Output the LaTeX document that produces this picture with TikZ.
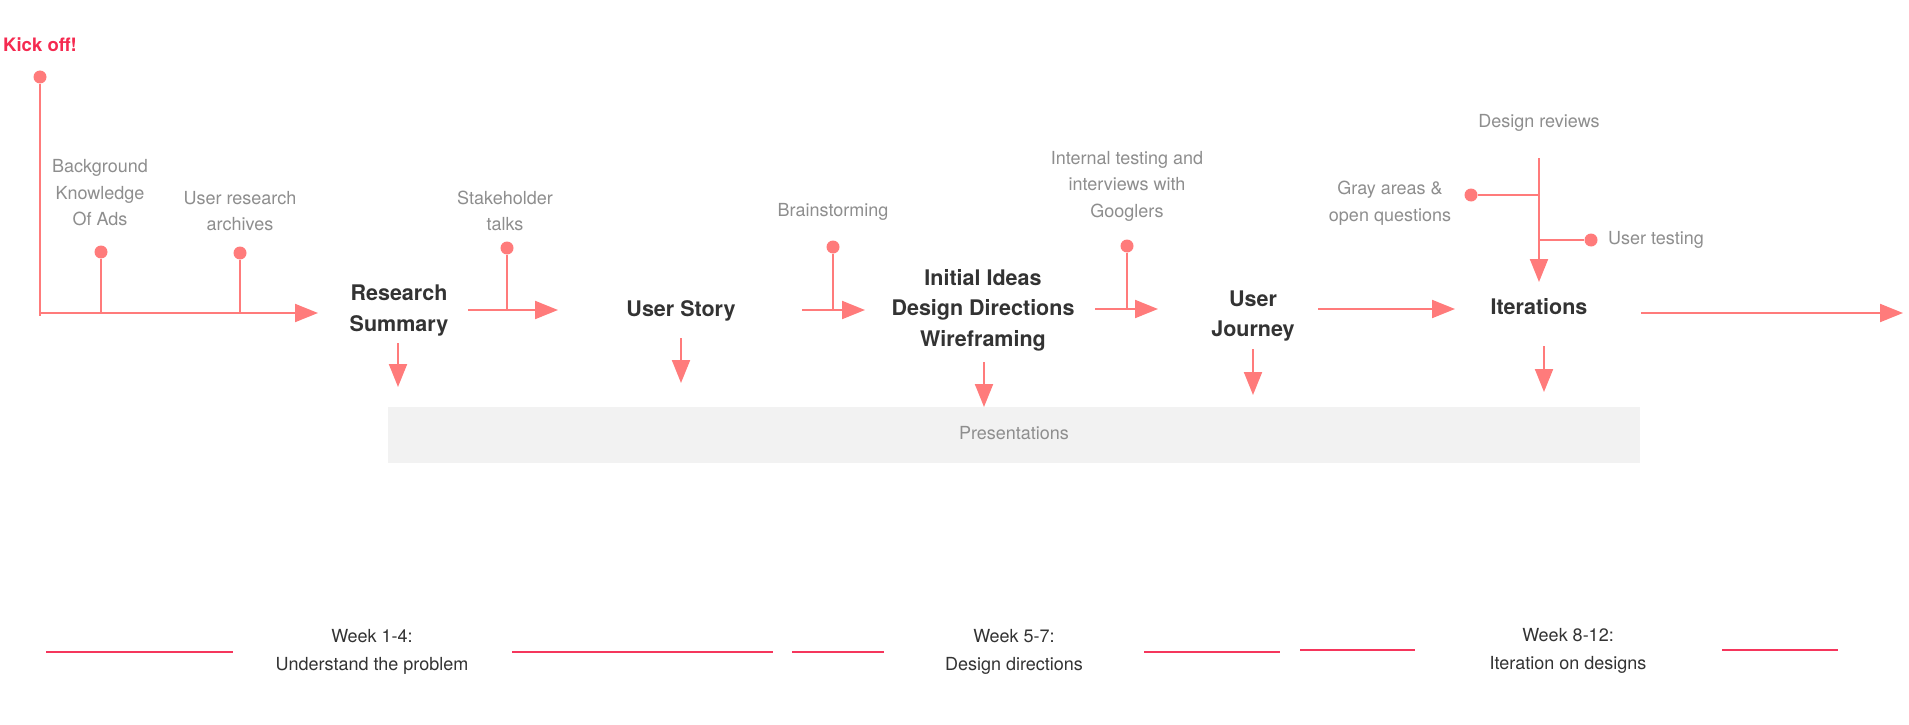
\documentclass[tikz,border=0pt]{standalone}
\usepackage{fontspec}
\setmainfont{TeX Gyre Heros}
\usetikzlibrary{arrows.meta}
\definecolor{salmon}{HTML}{FF7B7B}
\definecolor{hot}{HTML}{F5365C}
\definecolor{kickred}{HTML}{F52A50}
\definecolor{lblgray}{HTML}{8E8E8E}
\definecolor{darktext}{HTML}{333333}
\definecolor{boxfill}{HTML}{F2F2F2}
\begin{document}
\begin{tikzpicture}[x=1pt,y=-1pt,
 conn/.style={draw=salmon,line width=2pt},
 arr/.style={conn,-{Triangle[length=23pt,width=18pt]}},
 dot/.style={circle,fill=salmon,inner sep=0pt,minimum size=13pt},
 lbl/.style={text=lblgray,align=center,font=\fontsize{18}{26.5}\selectfont,inner sep=0pt},
 stage/.style={text=darktext,align=center,font=\bfseries\fontsize{21.5}{30.5}\selectfont,inner sep=0pt},
 week/.style={text=darktext,align=center,font=\fontsize{18}{28}\selectfont,inner sep=0pt},
 band/.style={draw=hot,line width=2.5pt}]
\useasboundingbox[fill=white] (0,0) rectangle (1909,725);

% Presentations band
\node[fill=boxfill,minimum width=1252pt,minimum height=56pt,inner sep=0pt] (pres) at (1014,435) {};
\node[lbl] (prestext) at (1014,433) {Presentations};

% texts
\node[text=kickred,font=\bfseries\fontsize{18.5}{22}\selectfont,inner sep=0pt] (kick) at (40,45) {Kick off!};
\node[lbl] (bg) at (100,193) {Background\\Knowledge\\Of Ads};
\node[lbl] (ura) at (240,211) {User research\\archives};
\node[stage] (rs) at (399,310.5) {Research\\Summary};
\node[lbl] (sh) at (505,211) {Stakeholder\\talks};
\node[stage] (us) at (681,310.5) {User Story};
\node[lbl] (bs) at (833,212) {Brainstorming};
\node[stage] (ii) at (983,310) {Initial Ideas\\Design Directions\\Wireframing};
\node[lbl] (itg) at (1127,186) {Internal testing and\\interviews with\\Googlers};
\node[stage] (uj) at (1253,316) {User\\Journey};
\node[lbl] (dr) at (1539,123) {Design reviews};
\node[lbl] (ga) at (1390,203) {Gray areas \&\\open questions};
\node[lbl,anchor=west] (ut) at (1608,240) {User testing};
\node[stage] (itr) at (1539,307) {Iterations};

% dots
\node[dot] (d0) at (40,77) {};
\node[dot] (d1) at (101,252) {};
\node[dot] (d2) at (240,253) {};
\node[dot] (d3) at (507,248) {};
\node[dot] (d4) at (833,247) {};
\node[dot] (d5) at (1127,246) {};
\node[dot] (d6) at (1471,195) {};
\node[dot] (d7) at (1591,240) {};

% coordinates
\coordinate (a0s) at (40,313);
\coordinate (a0b) at (40,316);
\coordinate (a0e) at (318,313);
\coordinate (j1) at (101,313);
\coordinate (j2) at (240,313);
\coordinate (a1s) at (468,310);
\coordinate (a1e) at (558,310);
\coordinate (j3) at (507,310);
\coordinate (a2s) at (802,310);
\coordinate (a2e) at (865,310);
\coordinate (j4) at (833,310);
\coordinate (a3s) at (1095,309);
\coordinate (a3e) at (1158,309);
\coordinate (j5) at (1127,309);
\coordinate (a4s) at (1318,309);
\coordinate (a4e) at (1455,309);
\coordinate (a5s) at (1641,313);
\coordinate (a5e) at (1903,313);
\coordinate (drs) at (1539,158);
\coordinate (dre) at (1539,282);
\coordinate (j6) at (1539,195);
\coordinate (j7) at (1539,240);
\coordinate (rsd1) at (398,343);
\coordinate (rsd2) at (398,387);
\coordinate (usd1) at (681,338);
\coordinate (usd2) at (681,383);
\coordinate (iid1) at (984,362);
\coordinate (iid2) at (984,407);
\coordinate (ujd1) at (1253,349);
\coordinate (ujd2) at (1253,395);
\coordinate (itd1) at (1544,346);
\coordinate (itd2) at (1544,392);

% connectors
\draw[conn] (d0) -- (a0b);
\draw[arr] (a0s) -- (a0e);
\draw[conn] (d1) -- (j1);
\draw[conn] (d2) -- (j2);
\draw[arr] (a1s) -- (a1e);
\draw[conn] (d3) -- (j3);
\draw[arr] (a2s) -- (a2e);
\draw[conn] (d4) -- (j4);
\draw[arr] (a3s) -- (a3e);
\draw[conn] (d5) -- (j5);
\draw[arr] (a4s) -- (a4e);
\draw[arr] (a5s) -- (a5e);
\draw[arr] (drs) -- (dre);
\draw[conn] (d6) -- (j6);
\draw[conn] (j7) -- (d7);
\draw[arr] (rsd1) -- (rsd2);
\draw[arr] (usd1) -- (usd2);
\draw[arr] (iid1) -- (iid2);
\draw[arr] (ujd1) -- (ujd2);
\draw[arr] (itd1) -- (itd2);

% weeks
\node[week] (w1) at (372,652) {Week 1-4:\\Understand the problem};
\node[week] (w2) at (1014,652) {Week 5-7:\\Design directions};
\node[week] (w3) at (1568,651) {Week 8-12:\\Iteration on designs};
\coordinate (b1a) at (46,652); \coordinate (b1b) at (233,652);
\coordinate (b2a) at (512,652); \coordinate (b2b) at (773,652);
\coordinate (b3a) at (792,652); \coordinate (b3b) at (884,652);
\coordinate (b4a) at (1144,652); \coordinate (b4b) at (1280,652);
\coordinate (b5a) at (1300,650); \coordinate (b5b) at (1415,650);
\coordinate (b6a) at (1722,650); \coordinate (b6b) at (1838,650);
\draw[band] (b1a) -- (b1b);
\draw[band] (b2a) -- (b2b);
\draw[band] (b3a) -- (b3b);
\draw[band] (b4a) -- (b4b);
\draw[band] (b5a) -- (b5b);
\draw[band] (b6a) -- (b6b);
\end{tikzpicture}
\end{document}
